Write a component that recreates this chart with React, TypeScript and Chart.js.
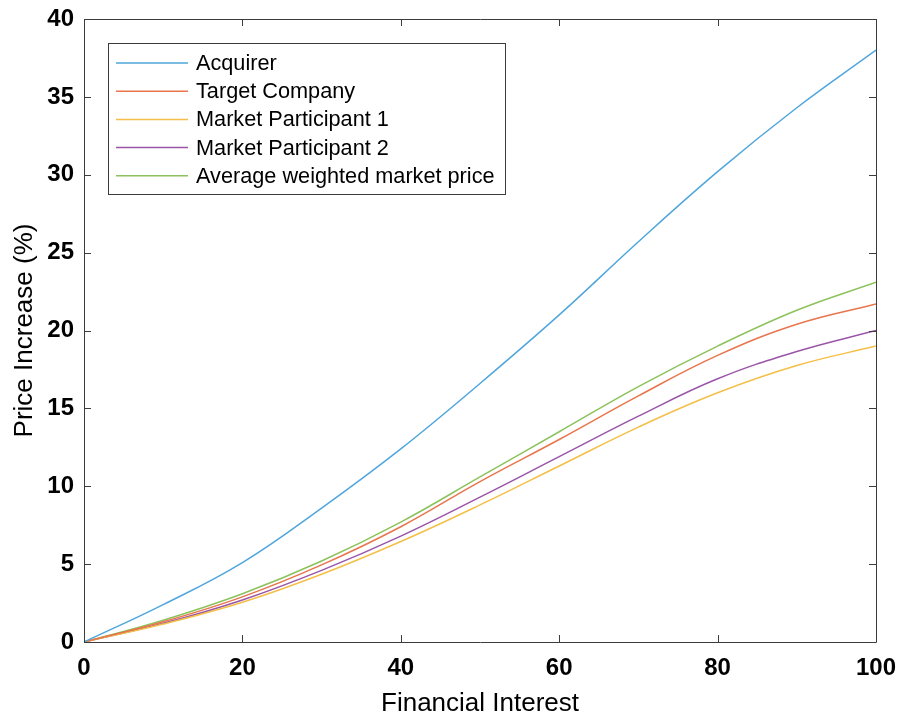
import React, { useEffect, useRef } from "react";
import { Chart, registerables } from "chart.js";

Chart.register(...registerables);

const financialInterest = [0, 10, 20, 30, 40, 50, 60, 70, 80, 90, 100];
const acquirer = [0, 2.4, 5.1, 8.6, 12.4, 16.6, 21.0, 25.7, 30.2, 34.3, 38.0];
const targetCompany = [0, 1.3, 2.9, 4.95, 7.4, 10.3, 13.0, 15.8, 18.4, 20.4, 21.7];
const marketParticipant1 = [0, 1.15, 2.55, 4.35, 6.45, 8.8, 11.3, 13.8, 16.0, 17.75, 19.0];
const marketParticipant2 = [0, 1.2, 2.7, 4.6, 6.8, 9.3, 11.9, 14.5, 16.9, 18.65, 20.0];
const averageWeighted = [0, 1.4, 3.1, 5.2, 7.7, 10.6, 13.5, 16.4, 19.0, 21.3, 23.1];

const seriesLabels = [
  "Acquirer",
  "Target Company",
  "Market Participant 1",
  "Market Participant 2",
  "Average weighted market price",
];
const seriesValues = [acquirer, targetCompany, marketParticipant1, marketParticipant2, averageWeighted];
const seriesColors = ["#4fa6dc", "#e8754c", "#f3bf47", "#9a55a8", "#8cc25c"];

const xTicks = [0, 20, 40, 60, 80, 100];
const yTicks = [0, 5, 10, 15, 20, 25, 30, 35, 40];

const FONT = "'Liberation Sans', Arial, sans-serif";

const framePlugin = {
  id: "matlabFrame",
  afterDatasetsDraw(chart: any) {
    const { ctx, chartArea } = chart;
    const { left, right, top, bottom } = chartArea;
    const xs = chart.scales.x;
    const ys = chart.scales.y;
    ctx.save();
    ctx.strokeStyle = "#3c3c3c";
    ctx.lineWidth = 1;
    ctx.beginPath();
    ctx.rect(Math.round(left) + 0.5, Math.round(top) + 0.5, Math.round(right - left), Math.round(bottom - top));
    ctx.stroke();
    const tl = 7;
    ctx.beginPath();
    xTicks.forEach((v) => {
      const px = Math.round(xs.getPixelForValue(v)) + 0.5;
      ctx.moveTo(px, bottom);
      ctx.lineTo(px, bottom - tl);
      ctx.moveTo(px, top);
      ctx.lineTo(px, top + tl);
    });
    yTicks.forEach((v) => {
      const py = Math.round(ys.getPixelForValue(v)) + 0.5;
      ctx.moveTo(left, py);
      ctx.lineTo(left + tl, py);
      ctx.moveTo(right, py);
      ctx.lineTo(right - tl, py);
    });
    ctx.stroke();

    // legend
    const ds = chart.data.datasets;
    ctx.font = `21.7px ${FONT}`;
    let maxW = 0;
    ds.forEach((d: any) => {
      maxW = Math.max(maxW, ctx.measureText(d.label).width);
    });
    const bx = left + 24;
    const by = top + 24;
    const lineLen = 72;
    const bw = 8 + lineLen + 8 + maxW + 10;
    const rowH = 28.2;
    const bh = 20 + rowH * (ds.length - 1) + 18;
    ctx.fillStyle = "#ffffff";
    ctx.fillRect(bx, by, bw, bh);
    ctx.strokeStyle = "#3c3c3c";
    ctx.strokeRect(Math.round(bx) + 0.5, Math.round(by) + 0.5, Math.round(bw), Math.round(bh));
    ds.forEach((d: any, i: number) => {
      const cy = by + 20 + rowH * i;
      ctx.strokeStyle = d.borderColor;
      ctx.lineWidth = 1.5;
      ctx.beginPath();
      ctx.moveTo(bx + 8, cy);
      ctx.lineTo(bx + 8 + lineLen, cy);
      ctx.stroke();
      ctx.fillStyle = "#000000";
      ctx.textBaseline = "middle";
      ctx.textAlign = "left";
      ctx.fillText(d.label, bx + 8 + lineLen + 8, cy + 1);
    });
    ctx.restore();
  },
};

export default function App() {
  const canvasRef = useRef<HTMLCanvasElement | null>(null);

  useEffect(() => {
    if (!canvasRef.current) return;
    const datasets = seriesLabels.map((label, i) => ({
      label,
      data: financialInterest.map((x, j) => ({ x, y: seriesValues[i][j] })),
      borderColor: seriesColors[i],
      backgroundColor: seriesColors[i],
      borderWidth: 1.5,
      pointRadius: 0,
      fill: false,
      tension: 0.4,
    }));
    const chart = new Chart(canvasRef.current, {
      type: "line",
      data: { datasets },
      plugins: [framePlugin],
      options: {
        responsive: false,
        animation: false,
        layout: { padding: { left: 0, right: 21, top: 19, bottom: 0 } },
        plugins: { legend: { display: false }, tooltip: { enabled: false } },
        scales: {
          x: {
            type: "linear",
            min: 0,
            max: 100,
            afterFit: (s: any) => {
              s.height = 72;
              s.paddingLeft = 0;
              s.paddingRight = 0;
            },
            afterBuildTicks: (s: any) => {
              s.ticks = xTicks.map((v) => ({ value: v }));
            },
            grid: { display: false, drawTicks: false },
            border: { display: false },
            ticks: {
              padding: 12,
              color: "#000000",
              font: { family: FONT, size: 24, weight: "bold" },
              maxRotation: 0,
            },
            title: {
              display: true,
              text: "Financial Interest",
              color: "#000000",
              font: { family: FONT, size: 26 },
              padding: { top: 0, bottom: -5 },
            },
          },
          y: {
            type: "linear",
            min: 0,
            max: 40,
            afterFit: (s: any) => {
              s.width = 84;
              s.paddingTop = 0;
              s.paddingBottom = 0;
            },
            afterBuildTicks: (s: any) => {
              s.ticks = yTicks.map((v) => ({ value: v }));
            },
            grid: { display: false, drawTicks: false },
            border: { display: false },
            ticks: {
              padding: 10,
              color: "#000000",
              font: { family: FONT, size: 24, weight: "bold" },
            },
            title: {
              display: true,
              text: "Price Increase (%)",
              color: "#000000",
              font: { family: FONT, size: 26 },
              padding: { top: 9, bottom: 0 },
            },
          },
        },
      },
    });
    return () => chart.destroy();
  }, []);

  return (
    <div style={{ position: "absolute", left: 0, top: 0, width: 897, height: 714, background: "#ffffff" }}>
      <canvas ref={canvasRef} width={897} height={714} style={{ display: "block" }} />
    </div>
  );
}
